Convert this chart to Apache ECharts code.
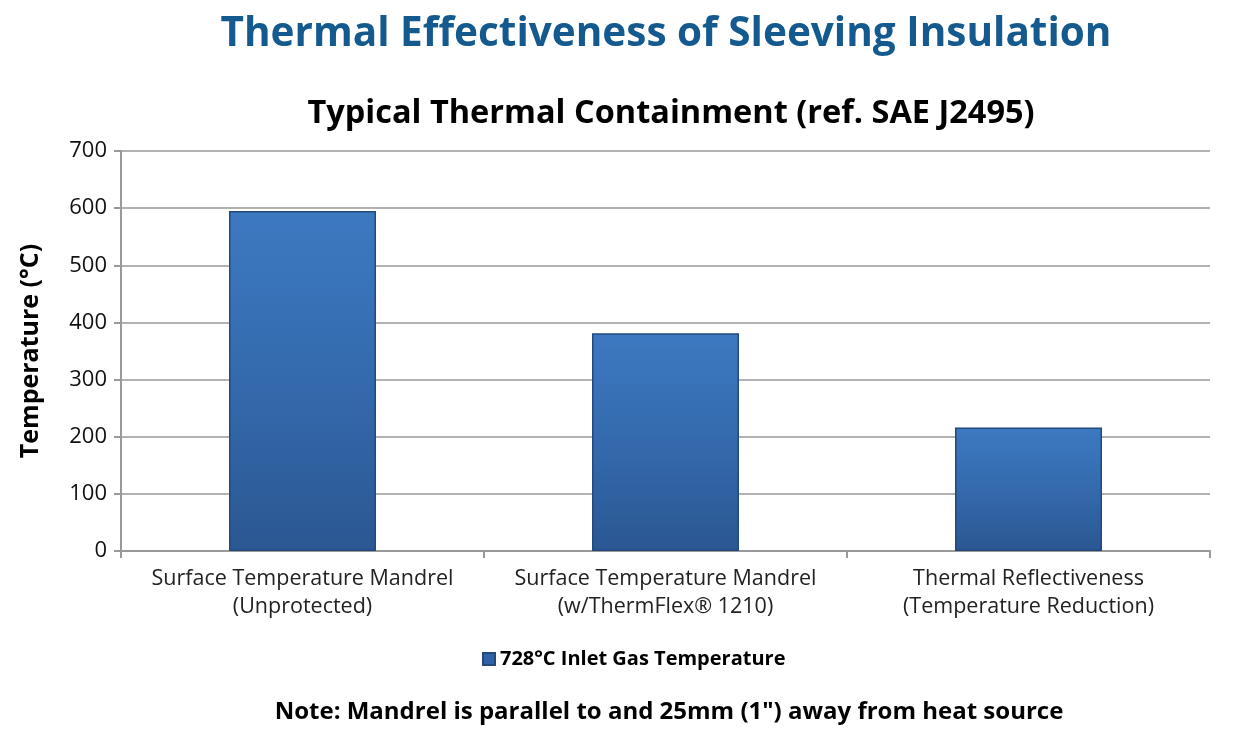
<!DOCTYPE html>
<html>
<head>
<meta charset="utf-8">
<script src="https://cdn.jsdelivr.net/npm/echarts@6/dist/echarts.min.js"></script>
<style>
html,body{margin:0;padding:0;background:#fff;}
#chart{width:1238px;height:743px;}
</style>
</head>
<body>
<div id="chart"></div>
<script>
// 柱状图数据
var categories = ['Surface Temperature Mandrel\n(Unprotected)', 'Surface Temperature Mandrel\n(w/ThermFlex\u00AE 1210)', 'Thermal Reflectiveness\n(Temperature Reduction)'];
var seriesName = '728\u00B0C Inlet Gas Temperature';
var values = [595, 381, 216];

var chart = echarts.init(document.getElementById('chart'));
var font = '"Open Sans", "Noto Sans", sans-serif';
var barColor = new echarts.graphic.LinearGradient(0, 0, 0, 1, [
    {offset: 0, color: '#3d79c1'},
    {offset: 0.5, color: '#346aad'},
    {offset: 1, color: '#2b5792'}
]);
var options = {
    textStyle: {fontFamily: font},
    title: [{
        text: 'Thermal Effectiveness of Sleeving Insulation',
        left: 661,
        textAlign: 'center',
        top: 9,
        textStyle: {fontFamily: font, fontSize: 40.5, fontWeight: 'bold', color: '#145a8e'}
    }, {
        text: 'Typical Thermal Containment (ref. SAE J2495)',
        left: 666,
        textAlign: 'center',
        top: 92,
        textStyle: {fontFamily: font, fontSize: 32.5, fontWeight: 'bold', color: '#000'}
    }, {
        text: 'Note: Mandrel is parallel to and 25mm (1") away from heat source',
        left: 664,
        textAlign: 'center',
        top: 695,
        textStyle: {fontFamily: font, fontSize: 24, fontWeight: 'bold', color: '#000'}
    }],
    legend: {
        top: 644,
        left: 477,
        itemWidth: 12,
        itemHeight: 12,
        itemGap: 8,
        icon: 'rect',
        textStyle: {fontFamily: font, fontSize: 20, fontWeight: 'bold', color: '#000'},
        data: [{name: seriesName, itemStyle: {color: '#2f62a6'}}]
    },
    grid: {
        left: 121,
        right: 28,
        top: 151,
        bottom: 192,
        containLabel: false
    },
    xAxis: {
        type: 'category',
        data: categories,
        axisLine: {show: true, lineStyle: {color: '#999', width: 2}},
        axisTick: {show: true, length: 7, lineStyle: {color: '#999', width: 2}},
        axisLabel: {interval: 0, fontFamily: font, fontSize: 21.5, color: '#222', lineHeight: 28, margin: 14}
    },
    yAxis: {
        type: 'value',
        min: 0,
        max: 700,
        interval: 100,
        name: 'Temperature (\u00B0C)',
        nameLocation: 'middle',
        nameGap: 78,
        nameTextStyle: {fontFamily: font, fontSize: 25, fontWeight: 'bold', color: '#000'},
        axisLine: {show: true, lineStyle: {color: '#999', width: 2}},
        axisTick: {show: true, length: 7, lineStyle: {color: '#999', width: 2}},
        axisLabel: {fontFamily: font, fontSize: 22, color: '#111', margin: 14},
        splitLine: {lineStyle: {color: '#999', width: 1.5}}
    },
    series: [{
        name: seriesName,
        type: 'bar',
        barWidth: 147,
        itemStyle: {
            color: barColor,
            borderColor: '#23497d',
            borderWidth: 1.5
        },
        data: values
    }]
};
chart.setOption(options);
</script>
</body>
</html>
